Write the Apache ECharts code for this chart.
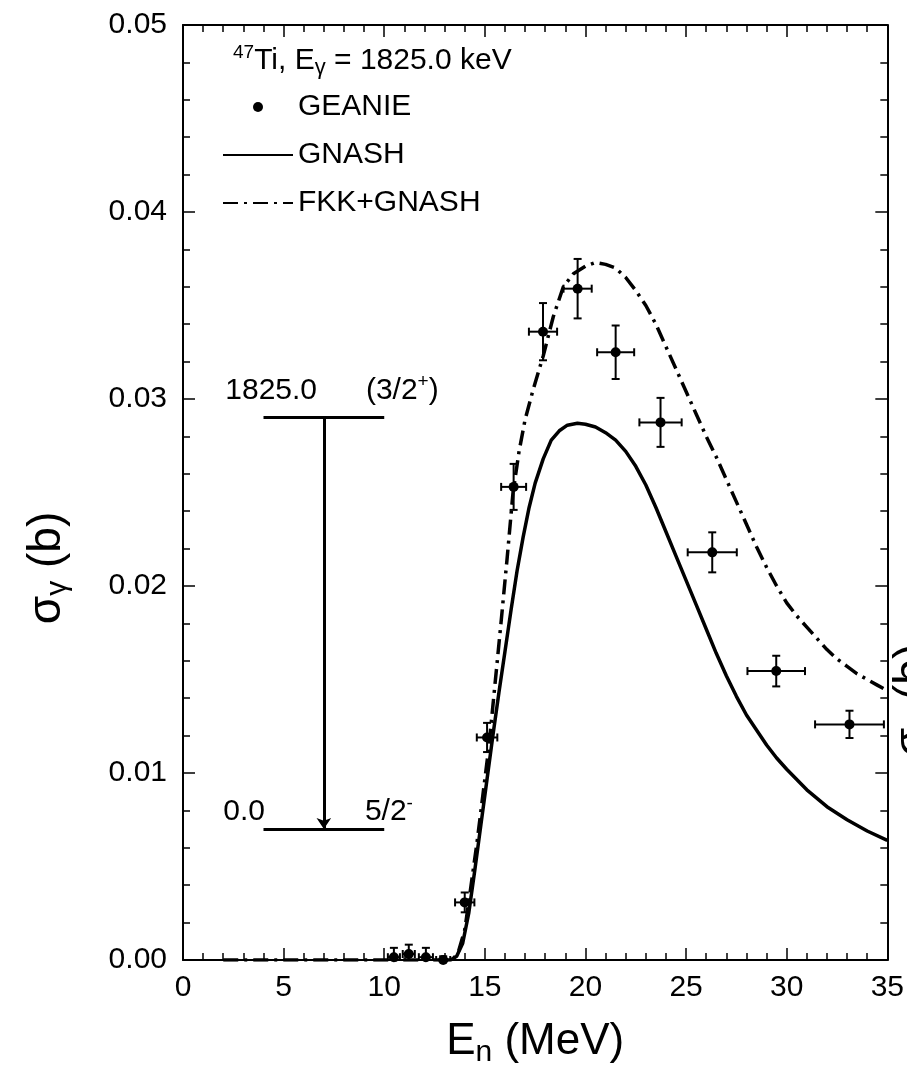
<!DOCTYPE html>
<html>
<head>
<meta charset="utf-8">
<script src="https://cdn.jsdelivr.net/npm/echarts@6/dist/echarts.min.js"></script>
<style>
  html, body { margin: 0; padding: 0; background: #fff; }
  #chart { width: 907px; height: 1075px; }
</style>
</head>
<body>
<div id="chart"></div>
<script>
// 47Ti(n,n'γ) 1825.0 keV gamma-ray production cross section

// GEANIE measurement: neutron energy (MeV), cross section (b), uncertainties
const geanieEn    = [10.48, 11.22, 12.07, 12.93, 14.00, 15.11, 16.43, 17.89, 19.61, 21.50, 23.73, 26.30, 29.48, 33.12];
const geanieSigma = [0.00015, 0.00032, 0.00015, 0.0, 0.00308, 0.01190, 0.02530, 0.03360, 0.03590, 0.03250, 0.02875, 0.02180, 0.01545, 0.01260];
const geanieDEn   = [0.30, 0.30, 0.35, 0.35, 0.48, 0.51, 0.62, 0.70, 0.70, 0.92, 1.05, 1.22, 1.43, 1.71];
const geanieDSig  = [0.00050, 0.00050, 0.00050, 0.00020, 0.00053, 0.00078, 0.00123, 0.00153, 0.00159, 0.00143, 0.00131, 0.00107, 0.00082, 0.00073];

// GNASH calculation
const gnashEn    = [13.0, 13.3, 13.6, 13.9, 14.2, 14.5, 14.8, 15.1, 15.4, 15.7, 16.0, 16.3, 16.6, 16.9, 17.2, 17.5, 17.9, 18.3, 18.7, 19.1, 19.6,
                    20.0, 20.5, 21.0, 21.5, 22.0, 22.5, 23.0, 23.5, 24.0, 24.5, 25.0, 25.5, 26.0, 26.5, 27.0, 27.5, 28.0, 28.5, 29.0, 29.5,
                    30.0, 31.0, 32.0, 33.0, 34.0, 35.0];
const gnashSigma = [0.0, 0.0, 0.0002, 0.0009, 0.0025, 0.0048, 0.0072, 0.0096, 0.0120, 0.0143, 0.0165, 0.0187, 0.0208, 0.0226, 0.0242, 0.0255, 0.0268, 0.0278, 0.0283, 0.0286, 0.0287,
                    0.02865, 0.0285, 0.0282, 0.0278, 0.0272, 0.0264, 0.0254, 0.0242, 0.0229, 0.0216, 0.0203, 0.0190, 0.0177, 0.0164, 0.0152, 0.0141, 0.0131, 0.0123, 0.0115, 0.0108,
                    0.0102, 0.0091, 0.0082, 0.0075, 0.0069, 0.0064];

// FKK+GNASH calculation
const fkkEn    = [2.0, 13.4, 13.7, 14.0, 14.2, 14.6, 14.9, 15.2, 15.5, 15.8, 16.1, 16.4, 16.7, 17.0, 17.4, 17.9, 18.4, 18.9, 19.4, 20.0, 20.5,
                  21.0, 21.5, 22.0, 22.5, 23.0, 23.5, 24.0, 24.5, 25.0, 25.5, 26.0, 26.5, 27.0, 27.5, 28.0, 28.5, 29.0, 29.5, 30.0,
                  30.5, 31.0, 31.5, 32.0, 32.5, 33.0, 33.5, 34.0, 34.5, 35.0];
const fkkSigma = [0.0, 0.0, 0.0005, 0.0016, 0.0031, 0.0062, 0.0088, 0.0114, 0.0147, 0.0180, 0.0214, 0.0250, 0.0272, 0.0289, 0.0305, 0.0323, 0.0344, 0.0360, 0.0367, 0.0371, 0.0373,
                  0.0372, 0.0370, 0.0365, 0.0358, 0.0350, 0.0340, 0.0328, 0.0316, 0.0304, 0.0292, 0.0280, 0.0269, 0.0257, 0.0245, 0.0233, 0.0221, 0.0210, 0.0200, 0.0191,
                  0.0184, 0.0178, 0.0172, 0.0166, 0.0161, 0.0157, 0.0153, 0.0150, 0.0147, 0.0144];

// Level scheme inset (drawn in data units)
const levelSpan   = [4, 10];
const levelSigma  = [0.029, 0.007];
const arrowEn     = 7;
const levelEnergyText = ['1825.0', '0.0'];
const levelSpinText   = ['(3/2{sup|+})', '5/2{sup|-}'];
const levelEnergyAt   = [2.1, 2.0];
const levelSpinAt     = [9.09, 9.04];
const levelTextLift   = [-27, -17];

// Axis ticks
const xTicks = [0, 5, 10, 15, 20, 25, 30, 35];
const yTickLabels = ['0.00', '0.01', '0.02', '0.03', '0.04', '0.05'];

const FONT = "'Liberation Sans', Arial, Helvetica, sans-serif";
const supSub = {
  sup: { fontSize: 19, lineHeight: 18, verticalAlign: 'top', fontFamily: FONT, color: '#000' },
  sub: { fontSize: 22, padding: [13, 0, 0, 0], fontFamily: FONT, color: '#000' }
};
const bigSub = {
  sub: { fontSize: 30, lineHeight: 16, verticalAlign: 'bottom', fontFamily: FONT, fill: '#000', color: '#000' }
};

const pts = geanieEn.map((e, i) => [e, geanieSigma[i], geanieDEn[i], geanieDSig[i]]);

const axisLine = { show: true, onZero: false, lineStyle: { color: '#000', width: 2 } };
const tickStyle = { color: '#000', width: 1.5 };

function xAxisDef(pos, labels) {
  return {
    type: 'value', position: pos, min: xTicks[0], max: xTicks[xTicks.length - 1], interval: 5,
    axisLine: axisLine,
    axisTick: { show: true, inside: true, length: 12, lineStyle: tickStyle },
    minorTick: { show: true, splitNumber: 5, length: 7, lineStyle: tickStyle },
    splitLine: { show: false },
    axisLabel: { show: labels, fontSize: 30, fontFamily: FONT, color: '#000', margin: 13 },
    name: labels ? 'E{sub|n} (MeV)' : '',
    nameLocation: 'middle', nameGap: 56,
    nameTextStyle: { fontSize: 44, fontFamily: FONT, color: '#000', lineHeight: 52, rich: bigSub }
  };
}
function yAxisDef(pos, labels) {
  return {
    type: 'value', position: pos, min: 0, max: 0.05, interval: 0.01,
    axisLine: axisLine,
    axisTick: { show: true, inside: true, length: 12, lineStyle: tickStyle },
    minorTick: { show: true, splitNumber: 5, length: 7, lineStyle: tickStyle },
    splitLine: { show: false },
    axisLabel: {
      show: labels, fontSize: 30, fontFamily: FONT, color: '#000', margin: 16,
      formatter: v => yTickLabels[Math.round(v * 100)]
    }
  };
}

// rotated σγ (b) title; the second copy sits at the right edge of the canvas
function yTitle(cx, cy) {
  return {
    type: 'text', x: cx, y: cy, rotation: Math.PI / 2, silent: true,
    style: {
      text: 'σ{sub|γ} (b)', fontSize: 46, fontFamily: FONT, fill: '#000',
      lineHeight: 52, align: 'center', verticalAlign: 'middle', rich: bigSub
    }
  };
}

const chart = echarts.init(document.getElementById('chart'), null, { renderer: 'canvas' });

chart.setOption({
  animation: false,
  backgroundColor: '#fff',
  grid: { left: 183, top: 25, width: 705, height: 935, containLabel: false },
  title: {
    text: '{sup|47}Ti, E{sub|γ} = 1825.0 keV',
    left: 228, top: 38,
    textStyle: { fontSize: 30, fontWeight: 'normal', fontFamily: FONT, color: '#000', lineHeight: 36, rich: supSub }
  },
  legend: {
    orient: 'vertical', left: 222, top: 92, padding: 0,
    itemWidth: 70, itemHeight: 10, itemGap: 18,
    textStyle: { fontSize: 30, fontFamily: FONT, color: '#000', lineHeight: 30 },
    data: ['GEANIE', 'GNASH', 'FKK+GNASH']
  },
  xAxis: [xAxisDef('bottom', true), xAxisDef('top', false)],
  yAxis: [yAxisDef('left', true), yAxisDef('right', false)],
  graphic: [yTitle(47, 568), yTitle(913, 700)],
  series: [
    {
      name: 'FKK+GNASH', type: 'line', showSymbol: false, symbol: 'none', z: 3,
      data: fkkEn.map((e, i) => [e, fkkSigma[i]]),
      lineStyle: { color: '#000', width: 3.5, type: [15, 6, 3, 6] },
      itemStyle: { color: '#000', opacity: 0 }
    },
    {
      name: 'GNASH', type: 'line', showSymbol: false, symbol: 'none', z: 3,
      data: gnashEn.map((e, i) => [e, gnashSigma[i]]),
      lineStyle: { color: '#000', width: 3.5 },
      itemStyle: { color: '#000', opacity: 0 }
    },
    {
      name: 'GEANIE uncertainty', type: 'custom', z: 4, clip: true,
      data: pts,
      renderItem: function (params, api) {
        const e = api.value(0), s = api.value(1), de = api.value(2), ds = api.value(3);
        const top = api.coord([e, s + ds]), bot = api.coord([e, s - ds]);
        const lft = api.coord([e - de, s]), rgt = api.coord([e + de, s]);
        const c = 4;
        const st = { stroke: '#000', lineWidth: 2, fill: null };
        return {
          type: 'group',
          children: [
            { type: 'line', shape: { x1: top[0], y1: top[1], x2: bot[0], y2: bot[1] }, style: st },
            { type: 'line', shape: { x1: top[0] - c, y1: top[1], x2: top[0] + c, y2: top[1] }, style: st },
            { type: 'line', shape: { x1: bot[0] - c, y1: bot[1], x2: bot[0] + c, y2: bot[1] }, style: st },
            { type: 'line', shape: { x1: lft[0], y1: lft[1], x2: rgt[0], y2: rgt[1] }, style: st },
            { type: 'line', shape: { x1: lft[0], y1: lft[1] - c, x2: lft[0], y2: lft[1] + c }, style: st },
            { type: 'line', shape: { x1: rgt[0], y1: rgt[1] - c, x2: rgt[0], y2: rgt[1] + c }, style: st }
          ]
        };
      },
      encode: { x: 0, y: 1 }
    },
    {
      name: 'GEANIE', type: 'scatter', z: 5, clip: false,
      symbol: 'circle', symbolSize: 10,
      data: pts.map(p => [p[0], p[1]]),
      itemStyle: { color: '#000', opacity: 1 }
    },
    {
      type: 'lines', coordinateSystem: 'cartesian2d', z: 3, silent: true,
      data: levelSigma.map(s => ({ coords: [[levelSpan[0], s], [levelSpan[1], s]] })),
      lineStyle: { color: '#000', width: 3, opacity: 1 }
    },
    {
      type: 'lines', coordinateSystem: 'cartesian2d', z: 3, silent: true,
      symbol: ['none', 'arrow'], symbolSize: 11,
      data: [{ coords: [[arrowEn, levelSigma[0]], [arrowEn, levelSigma[1]]] }],
      lineStyle: { color: '#000', width: 3, opacity: 1 }
    },
    {
      type: 'scatter', z: 3, silent: true, symbolSize: 0, clip: false,
      itemStyle: { opacity: 1 },
      data: levelSigma.flatMap((s, i) => [
        { value: [levelEnergyAt[i], s], txt: levelEnergyText[i], lift: levelTextLift[i] },
        { value: [levelSpinAt[i], s], txt: levelSpinText[i], lift: levelTextLift[i] }
      ]).map(d => ({
        value: d.value,
        label: {
          show: true, position: 'right', distance: 0, offset: [0, d.lift],
          formatter: d.txt, fontSize: 30, fontFamily: FONT, color: '#000', opacity: 1, lineHeight: 36,
          rich: supSub
        }
      }))
    }
  ]
});
</script>
</body>
</html>
